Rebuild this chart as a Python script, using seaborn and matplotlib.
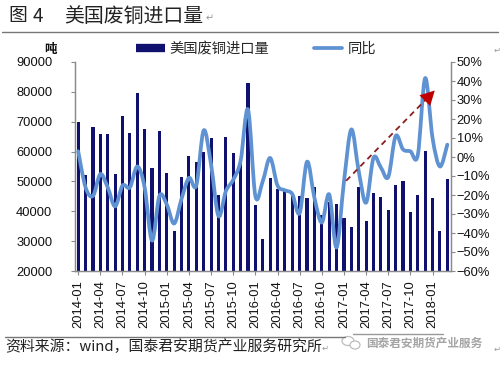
import numpy as np
import pandas as pd
import matplotlib
matplotlib.use("Agg")
import matplotlib.pyplot as plt
import seaborn as sns
from matplotlib.path import Path
from matplotlib.patches import PathPatch, Ellipse
from matplotlib.lines import Line2D

# ---------------- data ----------------
months = [f"{y}-{m:02d}" for y in range(2014, 2019) for m in range(1, 13)][:51]

imports = [70000, 52100, 68300, 65900, 65900, 52600, 72000, 66200, 79600, 67400, 54400, 66900,   # 2014
           52900, 33400, 51600, 58600, 56600, 60000, 64600, 45400, 64900, 59500, 56600, 82800,   # 2015
           42100, 30600, 51300, 47500, 46800, 46000, 45000, 44300, 48200, 38700, 43000, 42600,   # 2016
           37900, 34800, 48000, 36700, 46000, 44700, 40400, 48800, 50100, 39600, 45600, 60200,   # 2017
           44500, 33500, 50900]                                                                 # 2018

yoy = [3, -16, -20.5, -9, -16, -26, -15, -16, -5, -16, -44, -20.5,
       -25, -35, -22, -11, -15, 14, -4, -31, -18, -12, -2, 25,
       -20.5, -12.7, -0.5, -15, -17.5, -19.5, -29.5, -2.5, -21.5, -34.5, -19.7, -47.6,
       -13, 14.5, -7.5, -24, -0.5, -5.5, -10.5, 11, 4, 3, 1, 41.5,
       10, -5, 6.5]

left_ticks = [20000, 30000, 40000, 50000, 60000, 70000, 80000, 90000]
right_ticks = [-60, -50, -40, -30, -20, -10, 0, 10, 20, 30, 40, 50]
xtick_idx = list(range(0, 51, 3))

bar_label = "美国废铜进口量"
line_label = "同比"

BAR = "#10106e"
LINE = "#5f92d2"
SPINE = "#8a8a8a"

# ---------------- figure ----------------
sns.set_theme(style="white")
plt.rcParams["font.family"] = ["Liberation Sans", "Noto Sans CJK SC", "DejaVu Sans"]
plt.rcParams["axes.unicode_minus"] = True
CJK = ["Noto Sans CJK SC", "DejaVu Sans"]

W, H = 500, 368
fig = plt.figure(figsize=(W / 100, H / 100), dpi=100)
fig.patch.set_facecolor("white")

ax = fig.add_axes([74.5 / W, 1 - 271 / H, (451 - 74.5) / W, (271 - 62) / H])
df = pd.DataFrame({"month": months, "imports": imports})
sns.barplot(data=df, x="month", y="imports", color=BAR, saturation=1,
            width=0.42, linewidth=0, ax=ax)
ax.set_xlim(-0.5, len(months) - 0.5)
ax.set_ylim(20000, 90000)
ax.set_yticks(left_ticks)
ax.set_yticklabels([str(v) for v in left_ticks])
ax.set_xticks(xtick_idx)
ax.set_xticklabels([months[i] for i in xtick_idx], rotation=90)
ax.set_xlabel("")
ax.set_ylabel("")
ax.tick_params(axis="y", length=3, width=0.8, color=SPINE, pad=13, labelsize=9.3, labelcolor="#111")
ax.tick_params(axis="x", length=3, width=0.8, color=SPINE, pad=3.5, labelsize=9.3, labelcolor="#111")
ax.tick_params(axis="both", which="both", bottom=True, left=True, direction="out")
for s in ["top"]:
    ax.spines[s].set_visible(False)
for s in ["left", "bottom", "right"]:
    ax.spines[s].set_color(SPINE)
    ax.spines[s].set_linewidth(0.9)

ax2 = ax.twinx()
ax2.set_ylim(-60, 50)
ax2.set_yticks(right_ticks)
ax2.set_yticklabels([f"{v}%".replace("-", "\u2212") for v in right_ticks])
ax2.tick_params(axis="y", length=3, width=0.8, color=SPINE, pad=1.0, labelsize=9.3,
                labelcolor="#111", direction="out", right=True)
ax2.spines["top"].set_visible(False)
for s in ["left", "bottom", "right"]:
    ax2.spines[s].set_color(SPINE)
    ax2.spines[s].set_linewidth(0.9)
ax2.grid(False)
ax.grid(False)

# smoothed (Bezier) line like Excel's smoothed line
P = np.column_stack([np.arange(len(yoy), dtype=float), np.array(yoy, dtype=float)])
n = len(P)
verts = [tuple(P[0])]
codes = [Path.MOVETO]
for i in range(n - 1):
    p0 = P[max(i - 1, 0)]
    p1 = P[i]
    p2 = P[i + 1]
    p3 = P[min(i + 2, n - 1)]
    c1 = p1 + (p2 - p0) / 6.0
    c2 = p2 - (p3 - p1) / 6.0
    verts += [tuple(c1), tuple(c2), tuple(p2)]
    codes += [Path.CURVE4] * 3
ax2.add_patch(PathPatch(Path(verts, codes), facecolor="none", edgecolor=LINE,
                        lw=2.7, capstyle="round", joinstyle="round", zorder=3))

# dashed trend arrow
x0, y0, x1, y1 = 36.3, -12.5, 48.3, 35.0
ax2.plot([x0, x0 + (x1 - x0) * 0.93], [y0, y0 + (y1 - y0) * 0.93],
         ls=(0, (3.2, 2.4)), color="#8b1d1d", lw=1.3, zorder=4)
ax2.annotate("", xy=(x1, y1), xytext=(x0 + (x1 - x0) * 0.85, y0 + (y1 - y0) * 0.85),
             arrowprops=dict(arrowstyle="-|>,head_length=0.85,head_width=0.45",
                             color="#c00000", lw=0.01, shrinkA=0, shrinkB=0), zorder=5)

# legend
handles = [Line2D([], [], color=BAR, lw=6, solid_capstyle="butt"),
           Line2D([], [], color=LINE, lw=2.7)]
fig.legend(handles, [bar_label, line_label], loc="center",
           bbox_to_anchor=(256 / W, 1 - 49 / H), ncol=2, frameon=False,
           prop=dict(family=CJK, size=10.3), handlelength=2.0, handletextpad=0.35,
           columnspacing=3.1, borderaxespad=0)

# unit label
fig.text(50 / W, 1 - 49 / H, "吨", family=CJK, fontsize=9, fontweight="bold",
         ha="center", va="center", color="#111")

# title
fig.text(8 / W, 1 - 16 / H, "图", family=CJK, fontsize=13.5, ha="left", va="center", color="#222")
fig.text(33 / W, 1 - 16 / H, "4", family=CJK, fontsize=13.5, ha="left", va="center", color="#222")
fig.text(64 / W, 1 - 16 / H, "美国废铜进口量", family=CJK, fontsize=14.3, ha="left", va="center", color="#222")
fig.text(206 / W, 1 - 18 / H, "\u21b5", family=["DejaVu Sans"], fontsize=7, ha="left", va="center", color="#999")
fig.add_artist(Line2D([2 / W, 498 / W], [1 - 32 / H, 1 - 32 / H], color="#777", lw=1.0))

# footer
fig.add_artist(Line2D([5 / W, 345 / W], [1 - 336.5 / H, 1 - 336.5 / H], color="#777", lw=1.0))
fig.add_artist(Line2D([353 / W, 443 / W], [1 - 334 / H, 1 - 334 / H], color="#999", lw=1.0))
fig.text(5 / W, 1 - 347 / H, "资料来源：wind，国泰君安期货产业服务研究所", family=CJK,
         fontsize=10.7, ha="left", va="center", color="#222")
fig.text(322 / W, 1 - 348 / H, "\u21b5", family=["DejaVu Sans"], fontsize=6, ha="left", va="center", color="#999")
fig.text(494 / W, 1 - 349 / H, "\u21b5", family=["DejaVu Sans"], fontsize=6, ha="left", va="center", color="#999")
fig.text(494 / W, 1 - 50 / H, "\u21b5", family=["DejaVu Sans"], fontsize=6, ha="left", va="center", color="#999")

# watermark
for (cx, cy, w, h) in [(348, 341, 12, 9), (355, 345, 10, 8)]:
    fig.add_artist(Ellipse((cx / W, 1 - cy / H), w / W, h / H, transform=fig.transFigure,
                           facecolor="white", edgecolor="#bdbdbd", lw=0.9))
fig.text(366 / W, 1 - 343 / H, "国泰君安期货产业服务", family=CJK, fontsize=8.4,
         fontweight="bold", ha="left", va="center", color="#a5a5a5")

fig.savefig("out.png", dpi=100, facecolor="white")
